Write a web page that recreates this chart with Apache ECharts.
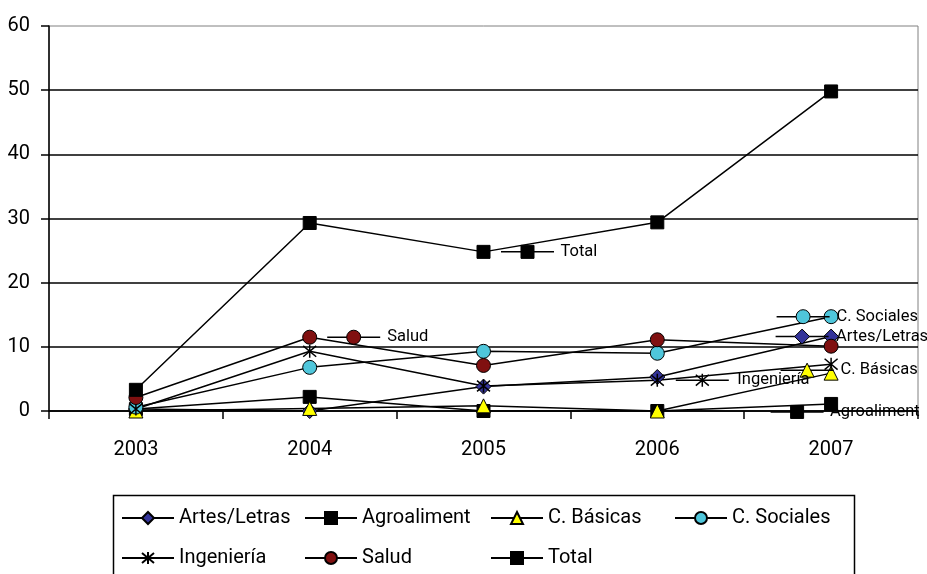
<!DOCTYPE html>
<html>
<head>
<meta charset="utf-8">
<script src="https://cdn.jsdelivr.net/npm/echarts@6/dist/echarts.min.js"></script>
<style>
html,body{margin:0;padding:0;background:#fff;}
#chart{width:927px;height:574px;}
</style>
</head>
<body>
<div id="chart"></div>
<script>
const years = ['2003', '2004', '2005', '2006', '2007'];
const yTicks = [0, 10, 20, 30, 40, 50, 60];
const artesLetras = [0.3, 0, 3.8, 5.3, 11.6];
const agroaliment = [0.3, 2.2, 0, 0, 1.1];
const cBasicas = [0, 0.4, 0.8, 0, 5.9];
const cSociales = [0.6, 6.8, 9.3, 9.0, 14.7];
const ingenieria = [0.3, 9.3, 3.9, 4.8, 7.3];
const salud = [2.1, 11.5, 7.1, 11.1, 10.1];
const total = [3.3, 29.3, 24.8, 29.4, 49.8];

const FONT = 'Roboto';
const FS = 20;
const LFS = 16.5;
const starPath = 'path://M0,0L10,10M10,0L0,10M5,-1L5,11';

function keyMarks(idx, values, name, symbol, size, fill, dx, dy, border) {
  const coord = [years[idx], values[idx]];
  return [
    {coord: coord, symbol: 'rect', symbolSize: [53, 1.5], symbolOffset: [dx, dy],
     itemStyle: {color: '#000', borderWidth: 0}, label: {show: false}},
    {coord: coord, symbol: symbol, symbolSize: size, symbolOffset: [dx, dy],
     itemStyle: {color: fill, borderColor: '#000', borderWidth: border || 1},
     label: {show: true, position: 'right', distance: 26, formatter: name,
             color: '#000', fontSize: LFS, fontFamily: FONT}}
  ];
}

function mkSeries(name, data, symbol, size, fill, marks, border) {
  return {
    name: name, type: 'line', data: data, symbol: symbol, symbolSize: size,
    showAllSymbol: true,
    lineStyle: {color: '#000', width: 1.5},
    itemStyle: {color: fill, borderColor: '#000', borderWidth: border || 1},
    emphasis: {disabled: true},
    markPoint: marks ? {silent: true, animation: false, data: marks} : undefined
  };
}

function leg(name, left, top) {
  return {
    data: [name], left: left, top: top, padding: 0,
    itemWidth: 52, itemHeight: 15, selectedMode: false,
    textStyle: {fontSize: FS, fontFamily: FONT, color: '#000'}
  };
}

const chart = echarts.init(document.getElementById('chart'), null, {renderer: 'canvas'});
chart.setOption({
  animation: false,
  backgroundColor: '#fff',
  grid: {left: 49, right: 9, top: 26, bottom: 163, show: true, borderColor: '#808080', borderWidth: 1},
  xAxis: {
    type: 'category', data: years, boundaryGap: true,
    axisLine: {lineStyle: {color: '#000', width: 1.5}},
    axisTick: {show: true, length: 8, lineStyle: {color: '#000', width: 1.5}},
    axisLabel: {fontSize: FS, fontFamily: FONT, color: '#000', margin: 29},
    splitLine: {show: false}
  },
  yAxis: {
    type: 'value', min: yTicks[0], max: yTicks[yTicks.length - 1], interval: 10,
    axisLine: {show: true, lineStyle: {color: '#000', width: 1.5}},
    axisTick: {show: true, length: 8, lineStyle: {color: '#000', width: 1.5}},
    axisLabel: {fontSize: FS, fontFamily: FONT, color: '#000', margin: 19},
    splitLine: {show: true, showMaxLine: false, lineStyle: {color: '#000', width: 1.5}}
  },
  legend: [
    leg('Artes/Letras', 121, 508),
    leg('Ingeniería', 121, 548),
    leg('Agroaliment', 304, 508),
    leg('Salud', 304, 548),
    leg('C. Básicas', 490, 508),
    leg('Total', 490, 548),
    leg('C. Sociales', 674, 508)
  ],
  graphic: [{
    type: 'rect', left: 111, top: 493, silent: true,
    shape: {width: 741, height: 90},
    style: {fill: 'none', stroke: '#000', lineWidth: 1.5}
  }],
  series: [
    mkSeries('Artes/Letras', artesLetras, 'diamond', 15, '#333399',
      keyMarks(4, artesLetras, 'Artes/Letras', 'diamond', 15, '#333399', -29, 0)),
    mkSeries('Agroaliment', agroaliment, 'rect', 13, '#000',
      keyMarks(4, agroaliment, 'Agroaliment', 'rect', 13, '#000', -34, 8)),
    mkSeries('C. Básicas', cBasicas, 'triangle', 14, '#FFFF00',
      keyMarks(4, cBasicas, 'C. Básicas', 'triangle', 14, '#FFFF00', -24, -3)),
    mkSeries('C. Sociales', cSociales, 'circle', 14, '#4FC6DB',
      keyMarks(4, cSociales, 'C. Sociales', 'circle', 14, '#4FC6DB', -28, 0)),
    mkSeries('Ingeniería', ingenieria, starPath, 13, 'none',
      keyMarks(3, ingenieria, 'Ingeniería', starPath, 13, 'none', 45, 0, 1.5), 1.5),
    mkSeries('Salud', salud, 'circle', 14, '#801010',
      keyMarks(1, salud, 'Salud', 'circle', 14, '#801010', 44, 0)),
    mkSeries('Total', total, 'rect', 13, '#000',
      keyMarks(2, total, 'Total', 'rect', 13, '#000', 44, 0))
  ]
});
</script>
</body>
</html>
